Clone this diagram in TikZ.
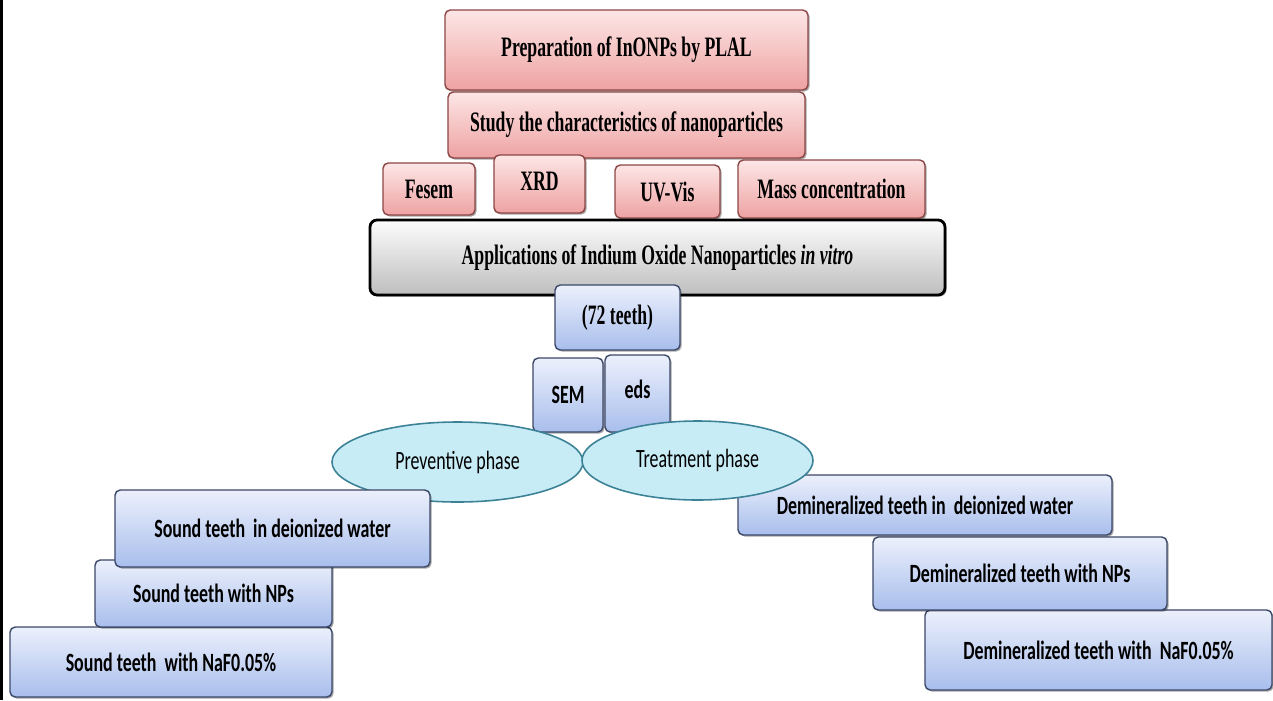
\documentclass[tikz,border=0pt]{standalone}
\usepackage{fontspec}
\setmainfont{Liberation Serif}
\newfontfamily\serb[FakeStretch=0.63]{Liberation Serif}
\newfontfamily\calb[FakeStretch=0.68]{Carlito}
\usetikzlibrary{shadows,shapes.geometric}
\definecolor{pinktop}{RGB}{253,230,230}
\definecolor{pinkbot}{RGB}{238,162,162}
\definecolor{pinkline}{RGB}{140,70,70}
\definecolor{graytop}{RGB}{252,252,252}
\definecolor{graybot}{RGB}{190,190,190}
\definecolor{bluetop}{RGB}{236,240,252}
\definecolor{bluebot}{RGB}{168,190,236}
\definecolor{blueline}{RGB}{60,72,105}
\definecolor{cyanfill}{RGB}{200,236,246}
\definecolor{cyanline}{RGB}{60,130,150}
\tikzset{
  wh/.style 2 args={minimum width=#1*0.02cm, minimum height=#2*0.02cm, inner sep=0pt},
  shad/.style={drop shadow={shadow xshift=0.9pt, shadow yshift=-0.9pt, opacity=0.35, fill=black}},
  serfont/.style={font=\serb\bfseries\fontsize{16}{18}\selectfont},
  pinkbox/.style={draw=pinkline, line width=0.8pt, rounded corners=3pt, top color=pinktop, bottom color=pinkbot, shad, serfont},
  graybox/.style={draw=black, line width=1.6pt, rounded corners=4pt, top color=graytop, bottom color=graybot, shad, serfont},
  bluebox/.style={draw=blueline, line width=0.8pt, rounded corners=3pt, top color=bluetop, bottom color=bluebot, shad, font=\calb\bfseries\fontsize{15}{17}\selectfont},
  phase/.style={ellipse, draw=cyanline, line width=0.9pt, fill=cyanfill, font=\calb\fontsize{15}{17}\selectfont},
}
\begin{document}
\begin{tikzpicture}[x=0.02cm,y=-0.02cm]
\useasboundingbox (0,0) rectangle (1273,700);
\fill[white] (0,0) rectangle (1273,700);
\draw[line width=1.7pt] (1.5,0) -- (1.5,700);
% top pink stack
\node[pinkbox, wh={363}{80}] (prep) at (626.5,50) {Preparation of InONPs by PLAL};
\node[pinkbox, wh={357}{66}] (study) at (626.5,125) {Study the characteristics of nanoparticles};
\node[pinkbox, wh={92}{52}] (fesem) at (429,189) {\raisebox{-2pt}{Fesem}};
\node[pinkbox, wh={91}{58}] (xrd) at (539.5,184) {\raisebox{3pt}{XRD}};
\node[pinkbox, wh={105}{53}] (uvvis) at (667.5,191.5) {\raisebox{-2pt}{UV-Vis}};
\node[pinkbox, wh={187}{58}] (mass) at (831.5,189) {Mass concentration};
\node[graybox, wh={575}{75}] (appl) at (657.5,257.5) {Applications of Indium Oxide Nanoparticles \textit{in vitro}};
% teeth
\node[bluebox, wh={125}{65}, serfont] (teeth) at (617.5,317.5) {\raisebox{3pt}{(72 teeth)}};
\node[bluebox, wh={70}{74}] (sem) at (568,395) {SEM};
\node[bluebox, wh={65}{77}] (eds) at (637.5,393.5) {\raisebox{5pt}{eds}};
% preventive branch
\node[phase, minimum width=251*0.02cm, minimum height=80*0.02cm] (prev) at (457.5,462) {Preventive phase};
\node[bluebox, wh={322}{70}] (snaf) at (171,662) {Sound teeth\ \ with NaF0.05\%};
\node[bluebox, wh={237}{67}] (snps) at (213.5,593.5) {Sound teeth with NPs};
\node[bluebox, wh={315}{77}] (sdei) at (272.5,528.5) {Sound teeth\ \ in deionized water};
% treatment branch
\node[bluebox, wh={347}{80}] (dnaf) at (1098.5,650) {Demineralized teeth with\ \ NaF0.05\%};
\node[bluebox, wh={294}{73}] (dnps) at (1020,573.5) {Demineralized teeth with NPs};
\node[bluebox, wh={374}{60}] (ddei) at (925,505) {Demineralized teeth in\ \ deionized water};
\node[phase, minimum width=231*0.02cm, minimum height=79*0.02cm] (treat) at (697.5,460.5) {Treatment phase};
\end{tikzpicture}
\end{document}
